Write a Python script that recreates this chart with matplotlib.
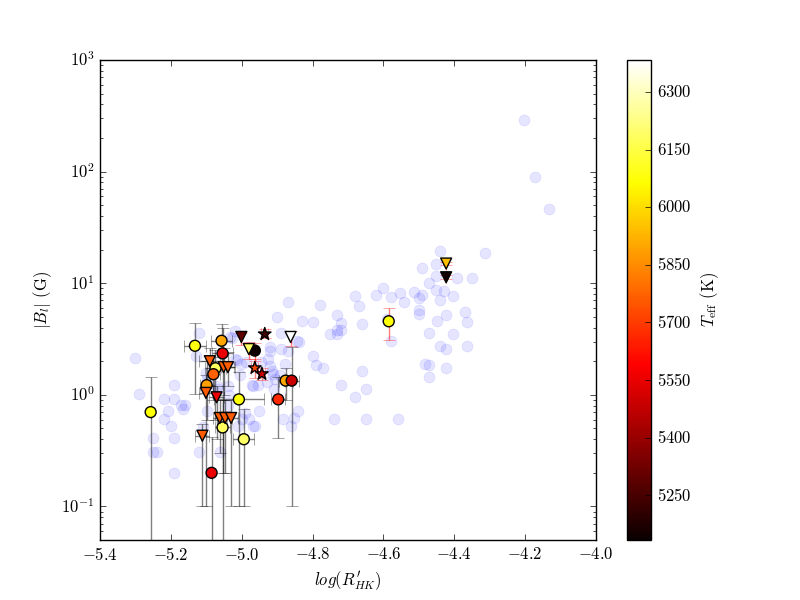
import matplotlib
matplotlib.use('Agg')
import matplotlib.pyplot as plt
import numpy as np

plt.style.use('classic')
plt.rcParams['mathtext.fontset'] = 'cm'
plt.rcParams['font.family'] = 'serif'
plt.rcParams['font.serif'] = ['cmr10']
plt.rcParams['axes.formatter.use_mathtext'] = True
plt.rcParams['font.size'] = 12

# comparison sample (faint background points)
bg_logr = [-4.202, -4.171, -4.132, -4.441, -4.312, -4.451, -4.492, -4.451, -4.391, -4.351,
           -4.472, -4.451, -4.430, -4.513, -4.552, -4.492, -4.501, -4.403, -4.622, -4.681,
           -4.602, -4.579, -4.441, -4.541, -4.779, -4.670, -4.501, -4.501, -4.371, -4.422,
           -4.730, -4.829, -4.799, -4.720, -4.661, -4.450, -4.363, -4.591, -4.730, -4.720,
           -4.752, -4.730, -4.472, -4.403, -4.837, -4.579, -4.441, -4.422, -4.363, -4.799,
           -4.791, -4.771, -4.482, -4.472, -4.422, -4.661, -4.472, -4.720, -4.650, -4.681,
           -4.870, -4.901, -4.740, -4.650, -4.560, -4.841, -4.853, -4.884, -4.861, -4.963,
           -4.890, -4.843, -4.868, -4.921, -4.921, -4.890, -4.912, -4.970, -4.954, -4.909,
           -5.301, -5.289, -5.219, -5.191, -5.191, -5.209, -5.171, -5.160, -5.120, -5.129,
           -5.027, -5.019, -5.013, -4.987, -5.101, -5.099, -5.071, -5.068, -5.039, -5.036,
           -5.006, -4.968, -5.099, -5.109, -5.040, -4.991, -5.220, -5.200, -5.250, -5.191,
           -5.250, -5.239, -5.191, -5.120, -5.061, -5.010, -5.000, -4.980, -4.968, -4.951,
           -5.165, -5.020, -4.945, -4.921, -4.926, -5.001, -4.915, -4.893, -4.879, -4.930,
           -4.907, -5.034]
bg_b = [290, 90, 46, 19.3, 18.5, 14.8, 13.6, 11.5, 11.2, 11.1,
        10.0, 8.66, 8.48, 8.31, 8.14, 7.86, 7.30, 7.66, 7.81, 7.66,
        8.97, 7.50, 7.01, 6.77, 6.36, 6.23, 5.74, 5.29, 5.51, 5.18,
        5.18, 4.58, 4.49, 4.39, 4.28, 4.58, 4.49, 4.77, 3.81, 3.81,
        3.50, 3.50, 3.58, 3.48, 2.99, 3.03, 2.74, 2.57, 2.74, 2.23,
        1.85, 1.74, 1.89, 1.85, 1.74, 1.63, 1.45, 1.23, 1.13, 0.96,
        6.72, 4.94, 0.61, 0.61, 0.61, 0.715, 0.62, 0.61, 0.53, 0.53,
        3.55, 3.02, 2.46, 2.67, 2.46, 2.56, 1.54, 1.23, 1.23, 1.13,
        2.13, 1.02, 0.92, 0.92, 1.22, 0.72, 0.81, 0.81, 3.60, 2.24,
        3.21, 3.75, 2.07, 1.96, 1.57, 1.38, 1.21, 1.13, 1.21, 0.99,
        1.49, 1.21, 0.72, 0.51, 0.80, 0.68, 0.61, 0.52, 0.41, 0.41,
        0.31, 0.31, 0.20, 0.31, 0.31, 0.52, 0.61, 0.61, 0.52, 0.715,
        0.75, 2.10, 1.96, 1.83, 2.10, 1.89, 1.65, 1.49, 1.89, 1.30,
        1.39, 3.30]

# detections (circles)
c_logr = [-5.257, -5.132, -5.057, -5.054, -5.074, -5.080, -5.099, -5.008, -5.054, -4.994,
          -5.085, -4.897, -4.876, -4.859, -4.963, -4.585]
c_b = [0.70, 2.75, 3.05, 2.35, 1.73, 1.53, 1.22, 0.91, 0.51, 0.40,
       0.20, 0.91, 1.34, 1.34, 2.49, 4.56]
c_blo = [0.0, 1.02, 1.8, 0.0, 0.6, 0.9, 0.6, 0.1, 0.2, 0.1,
         0.0, 0.41, 0.9, 0.1, 2.0, 3.1]
c_bhi = [1.44, 4.4, 4.3, 4.0, 2.5, 2.2, 2.0, 1.6, 0.9, 0.75,
         0.42, 1.45, 1.75, 2.7, 2.9, 6.0]
c_xerr = [0.0, 0.03, 0.03, 0.03, 0.03, 0.02, 0.02, 0.07, 0.02, 0.03,
          0.0, 0.02, 0.02, 0.02, 0.0, 0.0]
c_teff = [6070, 6080, 5900, 5550, 6180, 5770, 5890, 6075, 6180, 6190,
          5550, 5665, 5900, 5490, 5140, 6075]
c_red = [False] * 14 + [True, True]

# upper limits (triangles)
t_logr = [-5.111, -5.101, -5.090, -5.071, -5.062, -5.047, -5.030, -5.051, -5.039, -5.001,
          -4.980, -4.862, -4.423, -4.423]
t_b = [0.43, 1.04, 2.0, 0.95, 0.62, 0.62, 0.62, 1.77, 1.77, 3.3,
       2.57, 3.3, 15.0, 11.3]
t_blo = [0.1, 0.1, 1.2, 0.4, 0.3, 0.2, 0.1, 1.0, 1.2, 2.8,
         2.1, 2.76, 14.5, 10.8]
t_bhi = [0.55, 1.5, 2.6, 1.2, 0.9, 0.9, 0.9, 2.6, 2.4, 3.6,
         3.0, 3.7, 15.5, 11.8]
t_xerr = [0.02, 0.02, 0.03, 0.02, 0.02, 0.02, 0.02, 0.03, 0.02, 0.0,
          0.0, 0.0, 0.0, 0.0]
t_teff = [5760, 5760, 5760, 5560, 5760, 5760, 5760, 5760, 5760, 5295,
          6190, 6380, 5945, 5150]
t_red = [False] * 9 + [True] * 5

# stars
s_logr = [-4.935, -4.963, -4.943]
s_b = [3.5, 1.74, 1.54]
s_blo = [3.2, 1.4, 1.35]
s_bhi = [3.9, 2.1, 1.75]
s_teff = [5240, 5720, 5500]

tmin, tmax = 5133, 6384

fig = plt.figure(figsize=(8, 6), dpi=100)
ax = fig.add_subplot(1, 1, 1)

ax.scatter(bg_logr, bg_b, s=62, facecolor='b', edgecolor='b', linewidths=0.5,
           alpha=0.1, zorder=1)


def bars(x, y, lo, hi, xerr, red):
    x = np.array(x)
    y = np.array(y)
    lo = np.array(lo)
    hi = np.array(hi)
    xerr = np.array(xerr)
    red = np.array(red)
    ylow = np.where(lo > 0, y - lo, y - 1e-4)
    yhigh = hi - y
    for mask, col in [(~red, 'k'), (red, 'r')]:
        if mask.sum() == 0:
            continue
        ax.errorbar(x[mask], y[mask], yerr=[ylow[mask], yhigh[mask]],
                    xerr=xerr[mask], fmt='none', ecolor=col, alpha=0.5,
                    capsize=4, elinewidth=1, zorder=2)


bars(c_logr, c_b, c_blo, c_bhi, c_xerr, c_red)
bars(t_logr, t_b, t_blo, t_bhi, t_xerr, t_red)
bars(s_logr, s_b, s_blo, s_bhi, [0.01] * 3, [True] * 3)

sc = ax.scatter(c_logr, c_b, c=c_teff, cmap='hot', vmin=tmin, vmax=tmax,
                s=62, marker='o', edgecolor='k', linewidths=1, zorder=4)
ax.scatter(t_logr, t_b, c=t_teff, cmap='hot', vmin=tmin, vmax=tmax,
           s=62, marker='v', edgecolor='k', linewidths=1, zorder=4)
ax.scatter(s_logr, s_b, c=s_teff, cmap='hot', vmin=tmin, vmax=tmax,
           s=90, marker='*', edgecolor='k', linewidths=1, zorder=4)

ax.set_yscale('log')
ax.set_xlim(-5.4, -4.0)
ax.set_ylim(0.05, 1000)
ax.set_xlabel(r"$log(R^{\prime}_{HK})$")
ax.set_ylabel(r'$|B_l|$ (G)')

cb = fig.colorbar(sc, ax=ax)
cb.set_ticks([5250, 5400, 5550, 5700, 5850, 6000, 6150, 6300])
cb.set_label(r'$T_{\rm eff}$ (K)')

plt.savefig('out.png', dpi=100)
